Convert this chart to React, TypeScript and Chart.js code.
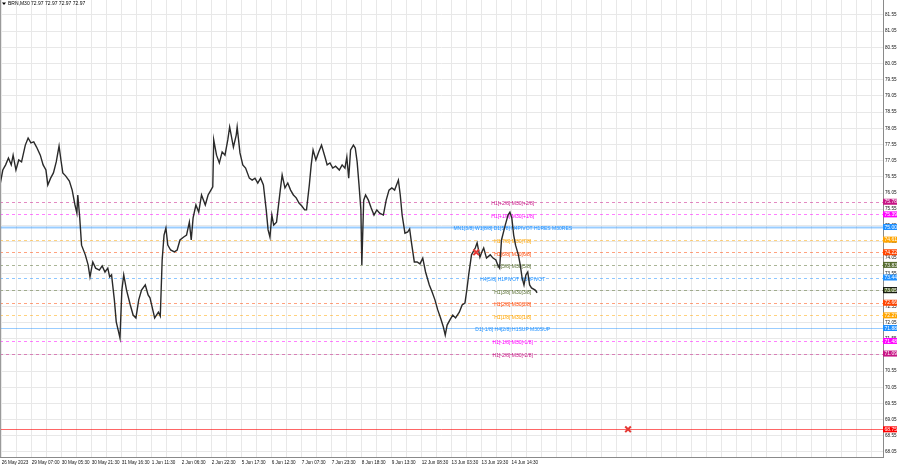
import React, { useEffect, useRef } from "react";
import { Chart, registerables } from "chart.js";
Chart.register(...registerables);

const symbolTitle = "BRN,M30 72.97 72.97 72.97 72.97";

const xTickLabels = [
  "26 May 2023", "29 May 07:00", "30 May 05:30", "30 May 21:30", "31 May 16:30",
  "1 Jun 11:30", "2 Jun 06:30", "2 Jun 22:30", "5 Jun 17:30", "6 Jun 12:30",
  "7 Jun 07:30", "7 Jun 23:30", "8 Jun 18:30", "9 Jun 13:30", "12 Jun 08:30",
  "13 Jun 03:30", "13 Jun 19:30", "14 Jun 14:30",
];

const yTickValues = [
  68.05, 68.55, 69.05, 69.55, 70.05, 70.55, 71.05, 71.55, 72.05, 72.55, 73.05, 73.55, 74.05, 74.55,
  75.05, 75.55, 76.05, 76.55, 77.05, 77.55, 78.05, 78.55, 79.05, 79.55, 80.05, 80.55, 81.05, 81.55,
];

// bar index (M30 bars) and price
const barIndex = [
  0, 3, 6, 9, 12, 14, 17, 20, 23, 27, 30, 33, 36, 39, 43, 46, 49, 51, 54, 57,
  60, 63, 65, 67, 70, 74, 77, 80, 82, 83, 85, 87, 91, 94, 96, 99, 102, 106, 109, 112,
  115, 117, 119, 122, 124, 126, 128, 130, 132, 135, 139, 142, 145, 148, 151, 155, 158, 160, 163, 165,
  169, 171, 173, 175, 177, 179, 182, 186, 189, 192, 196, 199, 202, 204, 206, 209, 212, 215, 219, 222,
  225, 227, 228, 231, 234, 237, 240, 243, 245, 249, 252, 253, 256, 259, 262, 266, 269, 272, 275, 278,
  281, 284, 286, 288, 290, 292, 295, 299, 301, 304, 307, 310, 313, 316, 319, 322, 325, 327, 330, 332,
  334, 337, 340, 343, 347, 349, 352, 355, 358, 362, 365, 368, 370, 372, 374, 377, 379, 381, 383, 385,
  386, 388, 390, 393, 396, 399, 402, 405, 409, 412, 415, 418, 421, 425, 427, 429, 432, 435, 437, 439,
  442, 445, 448, 451, 454, 458, 461, 464, 467, 470, 473, 475, 477, 480, 483, 486, 490, 493, 496, 498,
  500, 503, 507, 509, 512, 514, 516, 519, 523, 526, 529, 531, 533, 535, 539, 542, 544, 546, 548, 550,
  553, 555, 557, 559, 561, 563, 565, 567, 571, 573,
];
const closePrice = [
  76.30, 76.76, 76.92, 77.13, 76.92, 77.22, 76.76, 77.07, 77.01, 77.53, 77.75, 77.60, 77.63, 77.47, 77.22, 76.92, 76.76, 76.30, 76.51, 76.67,
  77.01, 77.50, 77.07, 76.67, 76.58, 76.42, 76.14, 75.68, 75.43, 75.99, 75.31, 74.44, 74.14, 73.83, 73.46, 73.92, 73.73, 73.67, 73.80, 73.61,
  73.73, 73.46, 73.52, 72.75, 72.07, 71.82, 71.57, 73.05, 73.52, 73.05, 72.59, 72.28, 72.19, 72.75, 73.05, 73.21, 72.90, 72.81, 72.44, 72.19,
  72.37, 72.25, 73.98, 74.75, 74.97, 74.44, 74.29, 74.23, 74.29, 74.60, 74.69, 74.75, 75.15, 74.60, 75.28, 75.68, 75.46, 75.99, 75.68, 75.99,
  76.14, 76.24, 77.69, 77.22, 76.98, 77.32, 77.22, 77.69, 78.09, 77.47, 77.84, 78.09, 77.29, 76.92, 76.82, 76.51, 76.45, 76.51, 76.36, 76.51,
  76.30, 75.53, 74.91, 74.69, 75.37, 75.06, 75.15, 76.14, 76.61, 76.21, 76.36, 76.14, 75.99, 75.90, 75.74, 75.65, 75.53, 75.53, 76.30, 76.92,
  77.38, 77.07, 77.32, 77.53, 77.13, 76.92, 76.98, 76.82, 76.88, 76.76, 76.92, 76.82, 77.16, 76.51, 77.38, 77.53, 77.44, 77.01, 76.30, 75.53,
  73.83, 75.83, 75.99, 75.83, 75.59, 75.37, 75.53, 75.43, 75.37, 75.83, 76.14, 76.21, 76.14, 76.45, 75.99, 75.37, 74.81, 74.85, 74.94, 74.51,
  73.92, 73.92, 73.86, 74.04, 73.61, 73.21, 72.99, 72.75, 72.44, 72.19, 71.91, 71.66, 71.97, 72.13, 72.28, 72.19, 72.37, 72.59, 72.65, 73.05,
  73.52, 74.14, 74.35, 74.51, 74.07, 74.23, 74.35, 74.04, 74.14, 74.04, 73.98, 73.83, 73.73, 74.60, 75.06, 75.37, 75.46, 75.28, 74.75, 74.44,
  74.14, 73.83, 73.43, 73.21, 73.52, 73.61, 73.21, 73.12, 73.05, 72.97,
];

const levelPrices = [75.78, 75.39, 75.0, 74.61, 74.22, 73.83, 73.44, 73.05, 72.66, 72.27, 71.88, 71.48, 71.09, 68.75];
const levelTexts = [
  "H1[+2/8] M30[+2/8]",
  "H1[+1/8] M30[+1/8]",
  "MN1[3/8] W1[8/8] D1[5/8] H4PIVOT H1RES M30RES",
  "H1[7/8] M30[7/8]",
  "H1[6/8] M30[6/8]",
  "H1[5/8] M30[5/8]",
  "H4[5/8] H1PIVOT M30PIVOT",
  "H1[3/8] M30[3/8]",
  "H1[2/8] M30[2/8]",
  "H1[1/8] M30[1/8]",
  "D1[-1/8] H4[2/8] H1SUP M30SUP",
  "H1[-1/8] M30[-1/8]",
  "H1[-2/8] M30[-2/8]",
  "",
];
const levelColors = [
  "#c71585", "#ff00ff", "#1e90ff", "#ffa500", "#ff4500", "#556b2f", "#1e90ff",
  "#556b2f", "#ff4500", "#ffa500", "#1e90ff", "#ff00ff", "#c71585", "#ff0000",
];
const levelSolid = [false, false, true, false, false, false, false, false, false, false, true, false, false, true];
const levelWidths = [1, 1, 2, 1, 1, 1, 1, 1, 1, 1, 1, 1, 1, 1];
const levelAlpha = [0.5, 0.5, 0.45, 0.5, 0.5, 0.5, 0.5, 0.5, 0.5, 0.5, 0.45, 0.5, 0.5, 0.6];

const crossBars = [508, 670];
const crossPrices = [74.22, 68.75];

const FONT = "'Liberation Sans', Arial, sans-serif";
const X_MAX = 942;
const Y_MIN = 67.895;
const Y_MAX = 82.013;
const LEVEL_TEXT_BAR = 547;
const GRID_START = 1.8;
const GRID_STEP = 16;

function hexA(hex: string, a: number) {
  const r = parseInt(hex.slice(1, 3), 16);
  const g = parseInt(hex.slice(3, 5), 16);
  const b = parseInt(hex.slice(5, 7), 16);
  return `rgba(${r},${g},${b},${a})`;
}

const levelPlugin = {
  id: "levels",
  beforeDatasetsDraw(chart: any) {
    const { ctx, chartArea, scales } = chart;
    const ys = scales.y;
    const xs = scales.x;
    ctx.save();
    for (let i = 0; i < levelPrices.length; i++) {
      const y = Math.round(ys.getPixelForValue(levelPrices[i])) + 0.5;
      ctx.beginPath();
      ctx.setLineDash(levelSolid[i] ? [] : [3, 3]);
      ctx.strokeStyle = hexA(levelColors[i], levelAlpha[i]);
      ctx.lineWidth = levelWidths[i];
      ctx.moveTo(chartArea.left, y);
      ctx.lineTo(chartArea.right, y);
      ctx.stroke();
    }
    ctx.setLineDash([]);
    ctx.font = `5px ${FONT}`;
    ctx.textAlign = "center";
    ctx.textBaseline = "middle";
    const tx = xs.getPixelForValue(LEVEL_TEXT_BAR);
    for (let i = 0; i < levelPrices.length; i++) {
      if (!levelTexts[i]) continue;
      const y = ys.getPixelForValue(levelPrices[i]) + 2;
      ctx.fillStyle = hexA(levelColors[i], 1);
      ctx.fillText(levelTexts[i], tx, y);
    }
    ctx.restore();
  },
  afterDraw(chart: any) {
    const { ctx, chartArea, scales } = chart;
    const ys = scales.y;
    ctx.save();
    ctx.strokeStyle = "#9a9a9a";
    ctx.lineWidth = 1;
    ctx.beginPath();
    ctx.moveTo(0.5, 0);
    ctx.lineTo(0.5, chartArea.bottom);
    ctx.stroke();
    ctx.font = `5px ${FONT}`;
    ctx.textAlign = "left";
    ctx.textBaseline = "middle";
    for (let i = 0; i < levelPrices.length; i++) {
      const y = ys.getPixelForValue(levelPrices[i]);
      ctx.fillStyle = levelColors[i];
      ctx.fillRect(chartArea.right, y - 3, 14, 6);
      if (i === 7) {
        ctx.strokeStyle = "#111";
        ctx.lineWidth = 1;
        ctx.strokeRect(chartArea.right + 0.5, y - 2.5, 13, 5);
      }
      ctx.fillStyle = "#ffffff";
      ctx.fillText(levelPrices[i].toFixed(2), chartArea.right + 1.5, y + 0.3);
    }
    ctx.fillStyle = "#000";
    ctx.beginPath();
    ctx.moveTo(2, 2.5);
    ctx.lineTo(6, 2.5);
    ctx.lineTo(4, 5);
    ctx.closePath();
    ctx.fill();
    ctx.font = `5px ${FONT}`;
    ctx.textBaseline = "middle";
    ctx.fillText(symbolTitle, 8, 4);
    ctx.restore();
  },
};

export default function App() {
  const ref = useRef<HTMLCanvasElement>(null);
  useEffect(() => {
    if (!ref.current) return;
    const gridTicks: number[] = [];
    for (let v = GRID_START; v <= X_MAX; v += GRID_STEP) gridTicks.push(v);
    const chart = new Chart(ref.current, {
      type: "line",
      data: {
        datasets: [
          {
            type: "line",
            data: barIndex.map((b, i) => ({ x: b, y: closePrice[i] })),
            borderColor: "#2a2a2a",
            borderWidth: 1.4,
            pointRadius: 0,
            tension: 0,
            order: 2,
          },
          {
            type: "scatter",
            data: crossBars.map((b, i) => ({ x: b, y: crossPrices[i] })),
            pointStyle: "crossRot",
            pointRadius: 4,
            borderColor: "#e53935",
            borderWidth: 2,
            order: 1,
          } as any,
        ],
      },
      options: {
        animation: false,
        responsive: false,
        devicePixelRatio: 1,
        layout: { padding: 0, autoPadding: false },
        plugins: { legend: { display: false }, tooltip: { enabled: false } },
        scales: {
          x: {
            type: "linear",
            min: 0,
            max: X_MAX,
            afterBuildTicks: (s: any) => {
              s.ticks = gridTicks.map((v) => ({ value: v }));
            },
            ticks: {
              autoSkip: false,
              maxRotation: 0,
              minRotation: 0,
              align: "start",
              padding: 3,
              color: "#111",
              font: { size: 4.6, family: FONT },
              callback: (_v: any, i: number) => (i % 2 === 0 ? xTickLabels[i / 2] ?? "" : ""),
            },
            grid: { color: "#e8e8e8", drawTicks: false },
            border: { color: "#8a8a8a" },
            afterFit: (s: any) => {
              s.height = 11;
              s.paddingLeft = 0;
              s.paddingRight = 0;
            },
          },
          y: {
            position: "right",
            min: Y_MIN,
            max: Y_MAX,
            afterBuildTicks: (s: any) => {
              s.ticks = yTickValues.map((v) => ({ value: v }));
            },
            ticks: {
              autoSkip: false,
              padding: 2,
              color: "#111",
              font: { size: 4.6, family: FONT },
              callback: (v: any) => Number(v).toFixed(2),
            },
            grid: { color: "#e8e8e8", drawTicks: false },
            border: { color: "#8a8a8a" },
            afterFit: (s: any) => {
              s.width = 17;
              s.paddingTop = 0;
              s.paddingBottom = 0;
            },
          },
        },
      } as any,
      plugins: [levelPlugin],
    });
    return () => chart.destroy();
  }, []);
  return (
    <div style={{ position: "absolute", left: 0, top: 0, width: 900, height: 468, background: "#fff" }}>
      <canvas ref={ref} width={900} height={468} style={{ width: 900, height: 468, display: "block" }} />
    </div>
  );
}
